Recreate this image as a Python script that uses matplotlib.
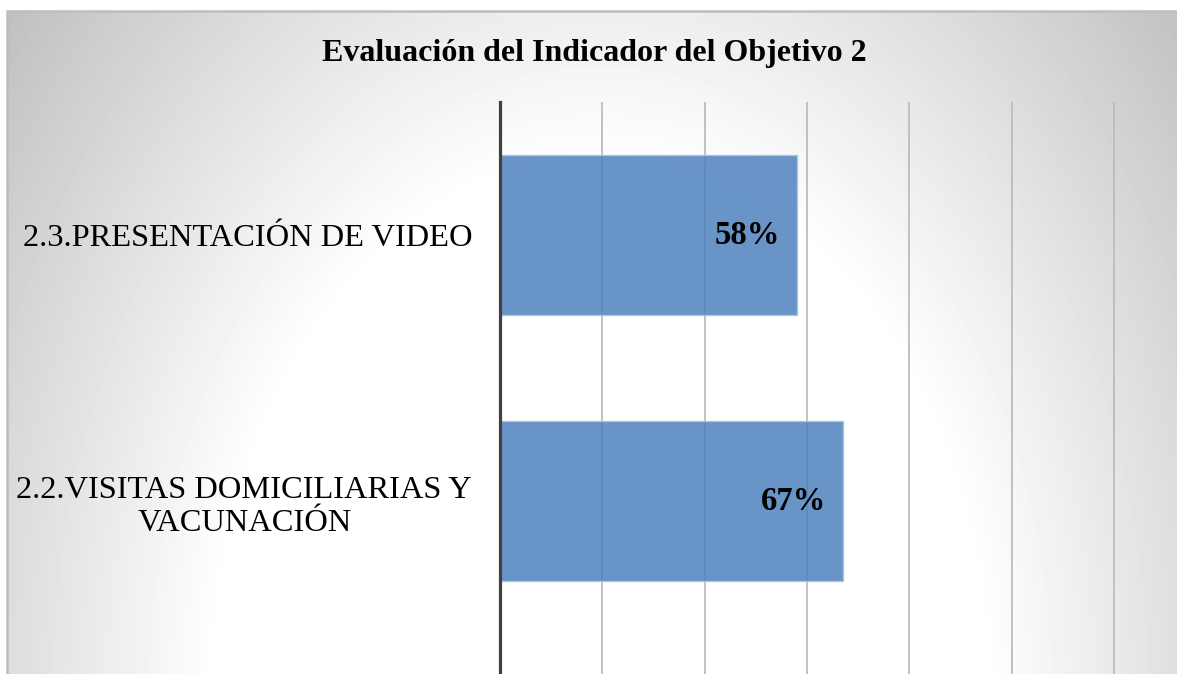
import numpy as np
from matplotlib import pyplot as plt
from matplotlib.patches import Rectangle

categories = ['2.2.VISITAS DOMICILIARIAS Y\nVACUNACIÓN', '2.3.PRESENTACIÓN DE VIDEO']
values = [0.67, 0.58]
value_labels = ['67%', '58%']
title = 'Evaluación del Indicador del Objetivo 2'

W, H = 1177, 674
plt.rcParams['font.family'] = ['Liberation Serif', 'DejaVu Serif']

fig = plt.figure(figsize=(W / 100, H / 100), dpi=100)
fig.patch.set_facecolor('white')

# radial grey background of the chart area
bg = fig.add_axes([7 / W, 0, 1 - 7 / W, (H - 11) / H])
bg.set_axis_off()
xx, yy = np.meshgrid(np.arange(7, W), np.arange(11, H))
d = np.sqrt(((xx - 600) / 820) ** 2 + ((yy - 700) / 1150) ** 2)
shade = np.clip(255 - np.clip(d - 0.47, 0, None) * 135, 190, 255) / 255
bg.imshow(shade, cmap='gray', vmin=0, vmax=1, aspect='auto',
          extent=[0, 1, 0, 1], interpolation='bilinear')
bg.set_xlim(0, 1)
bg.set_ylim(0, 1)

# chart border (top and left visible, rest cropped)
fig.add_artist(Rectangle((7 / W, -0.1), 1.1, (H - 11) / H + 0.1, transform=fig.transFigure,
                         fill=False, edgecolor='#bdbdbd', linewidth=1.8))

ax = fig.add_axes([500 / W, 0, 677 / W, (H - 102) / H])
ax.set_facecolor('none')

y = np.arange(len(categories))
bars = ax.barh(y, values, height=0.6, color='#4f81bd', alpha=0.85,
               edgecolor='#a9c4e6', linewidth=1, zorder=3)

for b, lab in zip(bars, value_labels):
    ax.annotate(lab, (b.get_width(), b.get_y() + b.get_height() / 2),
                xytext=(-12, 0), textcoords='offset points',
                ha='right', va='center', fontsize=23.5, fontweight='bold', zorder=4)

ax.set_xlim(0, 677 / 511.7)
ax.set_ylim(-0.65, 1.5)
ax.set_xticks(np.arange(0, 1.4, 0.2))
ax.xaxis.grid(True, color='#bcbcbc', linewidth=1.3, zorder=1)
ax.tick_params(axis='x', length=0, labelbottom=False)
ax.set_yticks(y, categories)
ax.tick_params(axis='y', length=0, pad=20, labelsize=23.4)
for t in ax.get_yticklabels():
    t.set_multialignment('center')
    t.set_linespacing(1.2)

for s in ['top', 'right', 'bottom']:
    ax.spines[s].set_visible(False)
ax.spines['left'].set_color('#404040')
ax.spines['left'].set_linewidth(2.3)
ax.spines['left'].set_zorder(5)

fig.text(594 / W, 1 - 53 / H, title, ha='center', va='center',
         fontsize=23, fontweight='bold')

plt.savefig('out.png', dpi=100)
